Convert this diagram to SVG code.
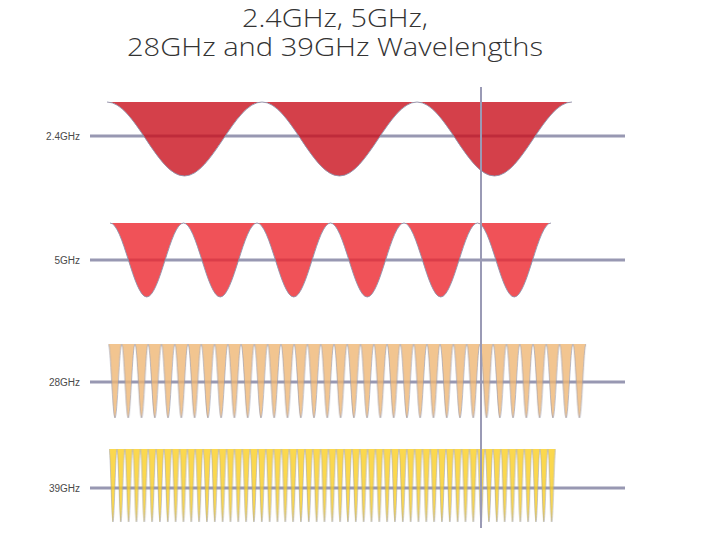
<svg xmlns="http://www.w3.org/2000/svg" width="703" height="542" viewBox="0 0 703 542">
<style>
.title{font-family:"Open Sans","Liberation Sans",sans-serif;font-weight:300;font-size:25px;fill:#333;}
.lbl{font-family:"Liberation Sans","Open Sans",sans-serif;font-size:10px;fill:#4a4a4a;text-anchor:end;}
.axis{stroke:#9898b2;stroke-width:3;fill:none;}
.wave{stroke:#8f93ab;stroke-width:0.9;fill-opacity:0.8;}
.w24{fill:#c9101d;}
.w5{fill:#ec272e;}
.w28{fill:#efb674;stroke-width:0.6;}
.w39{fill:#face22;stroke-width:0.5;}
</style>
<defs>
<pattern id="p28" patternUnits="userSpaceOnUse" x="108.4" y="344" width="13.27" height="78">
<path class="wave w28" d="M0,0c2.39,0 4.25,74 6.635,74c2.39,0 4.25,-74 6.635,-74"/>
</pattern>
<pattern id="p39" patternUnits="userSpaceOnUse" x="109.1" y="449" width="7.834" height="78">
<path class="wave w39" d="M0,0c1.41,0 2.51,73 3.917,73c1.41,0 2.51,-73 3.917,-73"/>
</pattern>
</defs>
<rect width="703" height="542" fill="#fff"/>
<g id="title">
<text class="title" x="242" y="27" textLength="186" lengthAdjust="spacingAndGlyphs">2.4GHz, 5GHz,</text>
<text class="title" x="127" y="56" textLength="416" lengthAdjust="spacingAndGlyphs">28GHz and 39GHz Wavelengths</text>
</g>
<g id="connectors">
<line class="axis" x1="90" y1="136" x2="625" y2="136"/>
<line class="axis" x1="90" y1="260" x2="625" y2="260"/>
<line class="axis" x1="90" y1="382" x2="625" y2="382"/>
<line class="axis" x1="90" y1="488" x2="625" y2="488"/>
</g>
<g id="wave-2-4ghz">
<text class="lbl" x="80" y="139.5">2.4GHz</text>
<path class="wave w24" d="M107,102c27.9,0 49.6,74 77.5,74c27.9,0 49.6,-74 77.5,-74c27.9,0 49.6,74 77.5,74c27.9,0 49.6,-74 77.5,-74c27.9,0 49.6,74 77.5,74c27.9,0 49.6,-74 77.5,-74"/>
</g>
<g id="wave-5ghz">
<text class="lbl" x="80" y="263.5">5GHz</text>
<path class="wave w5" d="M110,223c13.23,0 23.52,74 36.75,74c13.23,0 23.52,-74 36.75,-74c13.23,0 23.52,74 36.75,74c13.23,0 23.52,-74 36.75,-74c13.23,0 23.52,74 36.75,74c13.23,0 23.52,-74 36.75,-74c13.23,0 23.52,74 36.75,74c13.23,0 23.52,-74 36.75,-74c13.23,0 23.52,74 36.75,74c13.23,0 23.52,-74 36.75,-74c13.23,0 23.52,74 36.75,74c13.23,0 23.52,-74 36.75,-74"/>
</g>
<g id="wave-28ghz">
<text class="lbl" x="80" y="385.5">28GHz</text>
<rect x="108.4" y="343.5" width="477.72" height="76" fill="url(#p28)"/>
</g>
<g id="wave-39ghz">
<text class="lbl" x="80" y="491.5">39GHz</text>
<rect x="109.1" y="448.5" width="446.54" height="75" fill="url(#p39)"/>
</g>
<g id="marker-line">
<line x1="481" y1="87" x2="481" y2="528" stroke="#9a9ab5" stroke-width="2"/>
</g>
</svg>
